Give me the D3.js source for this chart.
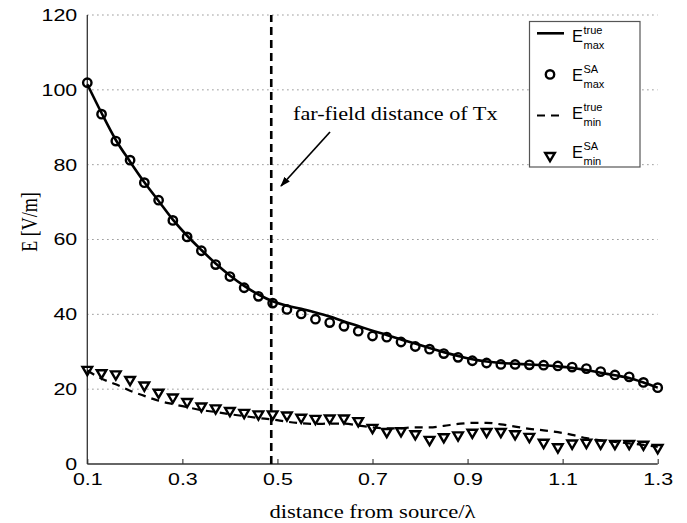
<!DOCTYPE html>
<html>
<head>
<meta charset="utf-8">
<script src="https://cdn.jsdelivr.net/npm/d3@7"></script>
<style>
  body { margin: 0; background: #fff; }
  text { fill: #000; }
</style>
</head>
<body>
<svg id="chart" width="687" height="523"></svg>
<script>
// Distance from source, in wavelengths
const distances = [0.10, 0.13, 0.16, 0.19, 0.22, 0.25, 0.28, 0.31, 0.34, 0.37,
                   0.40, 0.43, 0.46, 0.49, 0.52, 0.55, 0.58, 0.61, 0.64, 0.67,
                   0.70, 0.73, 0.76, 0.79, 0.82, 0.85, 0.88, 0.91, 0.94, 0.97,
                   1.00, 1.03, 1.06, 1.09, 1.12, 1.15, 1.18, 1.21, 1.24, 1.27, 1.30];

// E max, true field [V/m]
const eMaxTrue = [101.5, 93.8, 86.6, 80.8, 75.3, 70.3, 65.3, 61.0, 57.2, 53.6,
                  50.4, 47.6, 45.3, 43.5, 42.3, 41.5, 40.5, 39.4, 38.1, 36.9,
                  35.6, 34.5, 33.3, 32.2, 31.0, 29.9, 28.9, 28.0, 27.4, 27.0,
                  26.8, 26.6, 26.4, 26.1, 25.7, 25.1, 24.4, 23.7, 23.0, 21.8, 20.4];

// E max, SA estimate [V/m]
const eMaxSA = [101.9, 93.5, 86.3, 81.2, 75.2, 70.5, 65.1, 60.7, 57.0, 53.3,
                50.1, 47.1, 44.8, 43.0, 41.3, 40.1, 38.7, 37.8, 36.8, 35.5,
                34.2, 33.9, 32.6, 31.4, 30.7, 29.5, 28.5, 27.6, 27.0, 26.6,
                26.6, 26.5, 26.4, 26.2, 25.9, 25.5, 24.7, 23.8, 23.3, 21.8, 20.4];

// E min, true field [V/m]
const eMinTrue = [25.0, 22.8, 21.3, 19.6, 18.2, 16.9, 16.0, 15.2, 14.4, 13.9,
                  13.3, 12.8, 12.3, 11.9, 11.3, 10.9, 10.7, 10.8, 10.8, 10.3,
                  9.8, 9.5, 9.6, 9.8, 9.8, 10.2, 10.7, 11.0, 11.0, 10.6,
                  10.0, 9.4, 9.0, 8.5, 7.8, 6.9, 6.3, 5.9, 5.5, 5.1, 4.6];

// E min, SA estimate [V/m]
const eMinSA = [25.0, 24.1, 23.8, 22.3, 20.8, 18.9, 17.6, 16.4, 15.2, 14.7,
                14.0, 13.5, 13.1, 13.1, 12.8, 12.2, 11.9, 12.0, 12.0, 11.3,
                9.5, 8.4, 8.6, 7.8, 6.3, 7.0, 7.5, 8.2, 8.4, 8.4,
                7.8, 7.1, 5.5, 4.3, 5.3, 5.5, 5.3, 5.2, 5.2, 5.0, 4.1];

const xTicks = [0.1, 0.3, 0.5, 0.7, 0.9, 1.1, 1.3];
const yTicks = [0, 20, 40, 60, 80, 100, 120];
const farFieldDistance = 0.487;

const legendItems = [
  { key: "line",   sup: "true", sub: "max" },
  { key: "circle", sup: "SA",   sub: "max" },
  { key: "dash",   sup: "true", sub: "min" },
  { key: "tri",    sup: "SA",   sub: "min" }
];

const svg = d3.select("#chart");
const x = d3.scaleLinear().domain([0.1, 1.3]).range([87.3, 657.7]);
const y = d3.scaleLinear().domain([0, 120]).range([464, 15]);

const sansFont = "'Liberation Sans', Arial, Helvetica, sans-serif";
const serifFont = "'Liberation Serif', 'Times New Roman', serif";
const wide = 1.26;   // horizontal widening applied to labels

// Horizontal dotted grid
svg.append("g")
  .selectAll("line")
  .data(yTicks.filter(d => d > 0))
  .join("line")
  .attr("x1", x(0.1)).attr("x2", x(1.3))
  .attr("y1", d => y(d)).attr("y2", d => y(d))
  .attr("stroke", "#777")
  .attr("stroke-width", 1)
  .attr("stroke-dasharray", "1.2,3.8");

// Axes
const xAxis = d3.axisBottom(x).tickValues(xTicks).tickSize(-5).tickPadding(9)
  .tickFormat(d3.format(".1f"));
const gx = svg.append("g").attr("transform", `translate(0,${y(0)})`).call(xAxis);
const yAxis = d3.axisLeft(y).tickValues(yTicks).tickSize(0).tickPadding(8);
const gy = svg.append("g").attr("transform", `translate(${x(0.1)},0)`).call(yAxis);

[gx, gy].forEach(g => {
  g.select(".domain").attr("stroke", "#333").attr("stroke-width", 1.3);
  g.selectAll(".tick line").attr("stroke", "#333").attr("stroke-width", 1.1);
  g.selectAll(".tick text")
    .attr("font-family", sansFont).attr("font-size", 17).attr("fill", "#000")
    .attr("transform", `scale(${wide},1)`);
});
gx.select(".domain").attr("d", `M${x(0.1)},0H${x(1.3)}`);
gy.select(".domain").attr("d", `M0,${y(0)}V${y(120)}`);
gy.selectAll(".tick text").attr("dy", "0.32em");

// Axis titles
svg.append("text")
  .attr("transform", `translate(${(x(0.1) + x(1.3)) / 2},518) scale(${wide},1)`)
  .attr("text-anchor", "middle")
  .attr("font-family", serifFont).attr("font-size", 18)
  .text("distance from source/λ");

svg.append("text")
  .attr("transform", `translate(37,222) rotate(-90) scale(1,${wide})`)
  .attr("text-anchor", "middle")
  .attr("font-family", serifFont).attr("font-size", 18)
  .text("E [V/m]");

// Far-field marker
svg.append("line")
  .attr("x1", x(farFieldDistance)).attr("x2", x(farFieldDistance))
  .attr("y1", y(0)).attr("y2", y(120))
  .attr("stroke", "#000").attr("stroke-width", 2.6)
  .attr("stroke-dasharray", "8,5");

const rows = distances.map((d, i) => ({
  d, maxT: eMaxTrue[i], maxS: eMaxSA[i], minT: eMinTrue[i], minS: eMinSA[i]
}));

const lineOf = key => d3.line().x(r => x(r.d)).y(r => y(r[key])).curve(d3.curveMonotoneX);

svg.append("path").datum(rows)
  .attr("d", lineOf("maxT"))
  .attr("fill", "none").attr("stroke", "#000").attr("stroke-width", 2.6);

svg.append("path").datum(rows)
  .attr("d", lineOf("minT"))
  .attr("fill", "none").attr("stroke", "#000").attr("stroke-width", 2.2)
  .attr("stroke-dasharray", "8,6");

const triPath = "M-4.8,-3.6L4.8,-3.6L0,4.6Z";

svg.append("g").selectAll("circle").data(rows).join("circle")
  .attr("cx", r => x(r.d)).attr("cy", r => y(r.maxS)).attr("r", 4.2)
  .attr("fill", "none").attr("stroke", "#000").attr("stroke-width", 2.4);

svg.append("g").selectAll("path").data(rows).join("path")
  .attr("transform", r => `translate(${x(r.d)},${y(r.minS)})`)
  .attr("d", triPath)
  .attr("fill", "none").attr("stroke", "#000").attr("stroke-width", 2.4)
  .attr("stroke-linejoin", "miter");

// Annotation with arrow
const defs = svg.append("defs");
defs.append("marker")
  .attr("id", "arrowhead")
  .attr("viewBox", "0 0 10 10")
  .attr("refX", 9).attr("refY", 5)
  .attr("markerWidth", 6).attr("markerHeight", 6)
  .attr("markerUnits", "strokeWidth")
  .attr("orient", "auto")
  .append("path").attr("d", "M0,1.5L10,5L0,8.5Z").attr("fill", "#000");

svg.append("line")
  .attr("x1", 330).attr("y1", 132).attr("x2", 281).attr("y2", 186)
  .attr("stroke", "#000").attr("stroke-width", 1.7)
  .attr("marker-end", "url(#arrowhead)");

svg.append("text")
  .attr("transform", "translate(293,120) scale(1.14,1)")
  .attr("font-family", serifFont).attr("font-size", 19.5)
  .text("far-field distance of Tx");

// Legend
const lg = svg.append("g");
lg.append("rect")
  .attr("x", 529.5).attr("y", 21.5).attr("width", 110.5).attr("height", 145.5)
  .attr("fill", "#fff").attr("stroke", "#555").attr("stroke-width", 1.2);

legendItems.forEach((item, i) => {
  const sy = 33.3 + i * 41.1;
  const by = 42.3 + i * 38.5;
  if (item.key === "line") {
    lg.append("line").attr("x1", 537).attr("x2", 564).attr("y1", sy).attr("y2", sy)
      .attr("stroke", "#000").attr("stroke-width", 2.6);
  } else if (item.key === "circle") {
    lg.append("circle").attr("cx", 550).attr("cy", sy).attr("r", 4.2)
      .attr("fill", "none").attr("stroke", "#000").attr("stroke-width", 2.4);
  } else if (item.key === "dash") {
    lg.append("line").attr("x1", 537).attr("x2", 564).attr("y1", sy).attr("y2", sy)
      .attr("stroke", "#000").attr("stroke-width", 2.2).attr("stroke-dasharray", "8,6");
  } else {
    lg.append("path").attr("transform", `translate(550,${sy})`).attr("d", triPath)
      .attr("fill", "none").attr("stroke", "#000").attr("stroke-width", 2.4);
  }
  lg.append("text").attr("x", 572).attr("y", by)
    .attr("font-family", sansFont).attr("font-size", 16.5).text("E");
  lg.append("text").attr("x", 583.5).attr("y", by - 8)
    .attr("font-family", sansFont).attr("font-size", 11).text(item.sup);
  lg.append("text").attr("x", 583.5).attr("y", by + 7)
    .attr("font-family", sansFont).attr("font-size", 11).text(item.sub);
});
</script>
</body>
</html>
